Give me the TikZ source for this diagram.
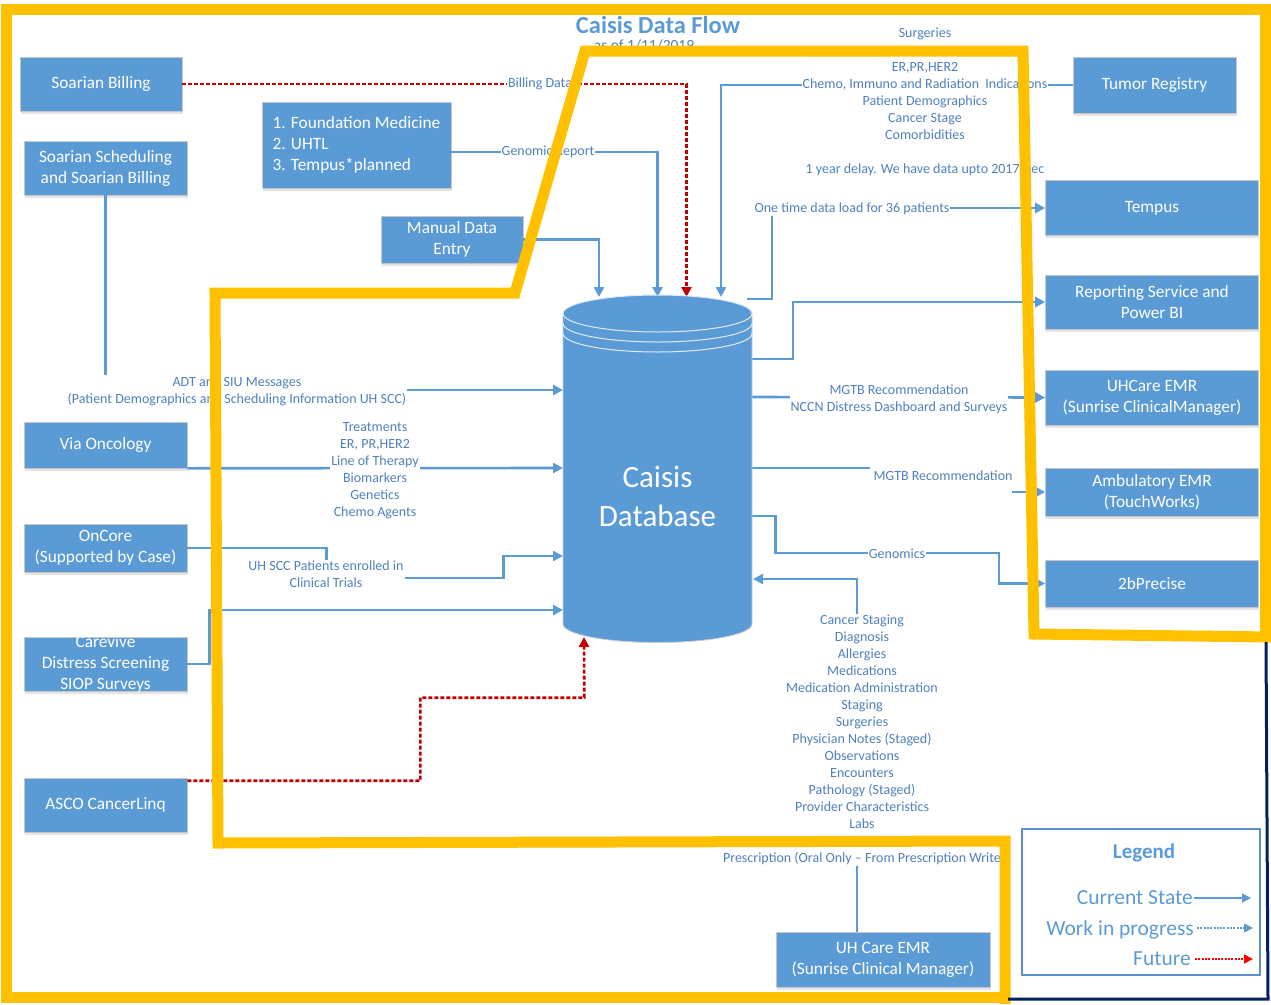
\documentclass[tikz,border=0pt]{standalone}
\usepackage{fontspec}
\setmainfont{Carlito}
\usepackage{xcolor}
\usepackage{tikz}
\usetikzlibrary{arrows.meta, shadows}

\definecolor{boxblue}{HTML}{5B9BD5}
\definecolor{textblue}{HTML}{4F81BD}
\definecolor{legendblue}{HTML}{5B8FCB}
\definecolor{zoneyellow}{HTML}{FFC000}
\definecolor{futurered}{HTML}{C00000}
\definecolor{navyline}{HTML}{002060}

\begin{document}
\begin{tikzpicture}[
    x=1pt, y=-1pt,
    box/.style={rectangle, draw=black!22, line width=0.6pt, fill=boxblue, text=white, align=center,
        font=\fontsize{17.3}{21}\selectfont, inner sep=1pt,
        drop shadow={shadow xshift=0.5pt, shadow yshift=-2.5pt, fill=black!35, opacity=0.3}},
    lbl/.style={fill=white, text=textblue, align=center, inner sep=1pt, font=\fontsize{14}{17}\selectfont},
    lgtext/.style={text=boxblue, inner sep=1pt, font=\fontsize{21.5}{24}\selectfont},
    arrow/.style={-{Triangle[length=10pt,width=10pt]}, line width=2.6pt, draw=boxblue},
    future/.style={arrow, draw=futurered, dash pattern=on 4pt off 2pt},
    zone/.style={draw=zoneyellow, line width=11pt, line join=miter},
    rim/.style={draw=white!80!boxblue, line width=1pt}
]
    \useasboundingbox (0,0) rectangle (1271,1004);

    % Title
    \node[text=boxblue, font=\bfseries\fontsize{24.5}{28}\selectfont] (title) at (658,25) {Caisis Data Flow};
    \node[text=textblue, font=\fontsize{15.5}{18}\selectfont] (subtitle) at (644,45) {as of 1/11/2019};

    % Sources (left)
    \node[box, minimum width=162pt, minimum height=54pt] (sbill) at (101,84) {Soarian Billing};
    \node[box, minimum width=163pt, minimum height=54pt] (ssched) at (105.5,168) {Soarian Scheduling\\and Soarian Billing};
    \node[box, align=left, minimum width=189pt, minimum height=86pt] (fmed) at (356.5,145) {1. Foundation Medicine\\2. UHTL\\3. Tempus*planned};
    \node[box, minimum width=142pt, minimum height=47pt] (manual) at (452,239.5) {Manual Data\\Entry};
    \node[box, minimum width=163pt, minimum height=46pt] (via) at (105.5,445) {Via Oncology};
    \node[box, minimum width=163pt, minimum height=48pt] (oncore) at (105.5,548) {OnCore\\(Supported by Case)};
    \node[box, minimum width=163pt, minimum height=54pt, inner ysep=-2pt] (carevive) at (105.5,664) {Carevive\\Distress Screening\\SIOP Surveys};
    \node[box, minimum width=163pt, minimum height=54pt] (asco) at (105.5,805) {ASCO CancerLinq};

    % Targets (right)
    \node[box, minimum width=163pt, minimum height=56pt] (tumor) at (1154.5,85) {Tumor Registry};
    \node[box, minimum width=213pt, minimum height=55pt] (tempus) at (1152,208) {Tempus};
    \node[box, minimum width=213pt, minimum height=54pt] (report) at (1152,302) {Reporting Service and\\Power BI};
    \node[box, minimum width=213pt, minimum height=55pt] (uhemr) at (1152,397.5) {UHCare EMR\\(Sunrise ClinicalManager)};
    \node[box, minimum width=213pt, minimum height=48pt] (amb) at (1152,492) {Ambulatory EMR\\(TouchWorks)};
    \node[box, minimum width=213pt, minimum height=47pt] (twob) at (1152,583.5) {2bPrecise};
    \node[box, minimum width=214pt, minimum height=55pt] (uhcare) at (883,959.5) {UH Care EMR\\(Sunrise Clinical Manager)};

    % Ports on the database
    \coordinate (pMan) at (599,297);
    \coordinate (pGen) at (657.5,297);
    \coordinate (pBill) at (686.5,297);
    \coordinate (pTum) at (721,297);
    \coordinate (pOut1) at (747,299);
    \coordinate (pOut2) at (752,359);
    \coordinate (pOut3) at (752,397);
    \coordinate (pOut4) at (752,468);
    \coordinate (pOut5) at (752,516);
    \coordinate (pRet) at (753,579);
    \coordinate (pIn3) at (563,390);
    \coordinate (pIn4) at (563,468);
    \coordinate (pIn5) at (563,556);
    \coordinate (pIn6) at (563,610);
    \coordinate (pAsco) at (584,637);

    % Connectors
    \draw[future] (sbill.east) -| (pBill);
    \draw[arrow] ([yshift=-7pt]fmed.east) -| (pGen);
    \draw[arrow] (manual.east) -| (pMan);
    \draw[arrow] (tumor.west) -| (pTum);
    \draw[arrow] (ssched.south) |- (pIn3);
    \draw[arrow] (via.south east) -- (pIn4);
    \draw[arrow] (oncore.east) -| ++(139,30) -- ++(177,0) |- (pIn5);
    \draw[arrow] (carevive.east) -- ++(22,0) |- (pIn6);
    \draw[future] ([yshift=-3pt]asco.north east) -- ++(233,0) |- ++(164,-83) -- (pAsco);
    \draw[arrow] (pOut1) -- ++(25,0) |- (tempus.west);
    \draw[arrow] (pOut2) -- ++(41,0) |- (report.west);
    \draw[arrow] (pOut3) -- (uhemr.west);
    \draw[arrow] (pOut4) -- ++(118,0) ++(142,24) -- (amb.west);
    \draw[arrow] (pOut5) -- ++(23.5,0) |- ++(223.5,37) |- (twob.west);
    \draw[arrow] ([xshift=-26pt]uhcare.north) |- (pRet);

    % Connector labels
    \node[lbl] (lbBill) at (540,84) {Billing Data};
    \node[lbl] (lbGen) at (548,152) {Genomic Report};
    \node[lbl] (lbTum) at (925,102) {Surgeries\\[17pt]ER,PR,HER2\\Chemo, Immuno and Radiation\ \ Indications\\Patient Demographics\\Cancer Stage\\Comorbidities\\[17pt]1 year delay. We have data upto 2017 Dec};
    \node[lbl] (lbTempus) at (852,209) {One time data load for 36 patients};
    \node[lbl] (lbUhemr) at (899,399) {MGTB Recommendation\\NCCN Distress Dashboard and Surveys};
    \node[lbl] (lbAmb) at (943,476) {MGTB Recommendation};
    \node[lbl] (lbGenomics) at (897,554) {Genomics};
    \node[lbl] (lbAdt) at (237,391) {ADT and SIU Messages\\(Patient Demographics and Scheduling Information UH SCC)};
    \node[lbl] (lbVia) at (375,471) {Treatments\\ER, PR,HER2\\Line of Therapy\\Biomarkers\\Genetics\\Chemo Agents};
    \node[lbl] (lbOncore) at (326,574) {UH SCC Patients enrolled in\\Clinical Trials};
    \node[lbl] (lbEmr) at (862,740) {Cancer Staging\\Diagnosis\\Allergies\\Medications\\Medication Administration\\Staging\\Surgeries\\Physician Notes (Staged)\\Observations\\Encounters\\Pathology (Staged)\\Provider Characteristics\\Labs\\[17pt]Prescription (Oral Only – From Prescription Write};

    % Database
    \fill[boxblue] (563,313.5) -- (563,624) arc[start angle=180, end angle=360, x radius=94.5pt, y radius=18.5pt]
        -- (752,313.5) arc[start angle=0, end angle=180, x radius=94.5pt, y radius=18.5pt] -- cycle;
    \draw[draw=black!20, line width=0.8pt] (563,313.5) -- (563,624) arc[start angle=180, end angle=360, x radius=94.5pt, y radius=18.5pt]
        -- (752,313.5);
    \draw[rim] (657.5,313.5) ellipse [x radius=94.5pt, y radius=18.5pt];
    \draw[rim] (563,323.5) arc[start angle=180, end angle=360, x radius=94.5pt, y radius=18.5pt];
    \draw[rim] (563,333.5) arc[start angle=180, end angle=360, x radius=94.5pt, y radius=18.5pt];
    \node[text=white, align=center, font=\fontsize{31}{39}\selectfont] (db) at (657.5,496.5) {Caisis\\Database};

    % Scope lines
    \draw[zone] (1008,997) -- (6,997) -- (6,9) -- (1265,9) -- (1265,640);
    \draw[zone] (1271,637) -- (1034,634) -- (1023,51) -- (585,51) -- (515,293) -- (215,293) -- (218,843) -- (1005,841) -- (1005,1004);
    \draw[navyline, line width=3pt] (1266,642) -- (1268,999) -- (1008,999);

    % Legend
    \node[draw=legendblue, line width=1.5pt, minimum width=238pt, minimum height=146pt] (legend) at (1141,902) {};
    \node[text=boxblue, font=\bfseries\fontsize{21}{24}\selectfont] (lgTitle) at (1144,853) {Legend};
    \node[lgtext, anchor=base east] (lgCur) at (1194,904.5) {Current State};
    \node[lgtext, anchor=base east] (lgWip) at (1195,935) {Work in progress};
    \node[lgtext, anchor=base east] (lgFut) at (1192,965.5) {Future};
    \coordinate (lgCurEnd) at (1251,898);
    \coordinate (lgWipEnd) at (1253,928);
    \coordinate (lgFutEnd) at (1253,959);
    \draw[-{Triangle[length=9pt,width=9pt]}, draw=boxblue, line width=2pt] (lgCur.east |- lgCurEnd) -- (lgCurEnd);
    \draw[-{Triangle[length=9pt,width=9pt]}, draw=boxblue, line width=1.6pt, dash pattern=on 2pt off 1.3pt] ([xshift=2pt]lgWip.east |- lgWipEnd) -- (lgWipEnd);
    \draw[-{Triangle[length=9pt,width=9pt]}, draw=red, line width=1.6pt, dash pattern=on 2pt off 1.3pt] ([xshift=3pt]lgFut.east |- lgFutEnd) -- (lgFutEnd);
\end{tikzpicture}
\end{document}
